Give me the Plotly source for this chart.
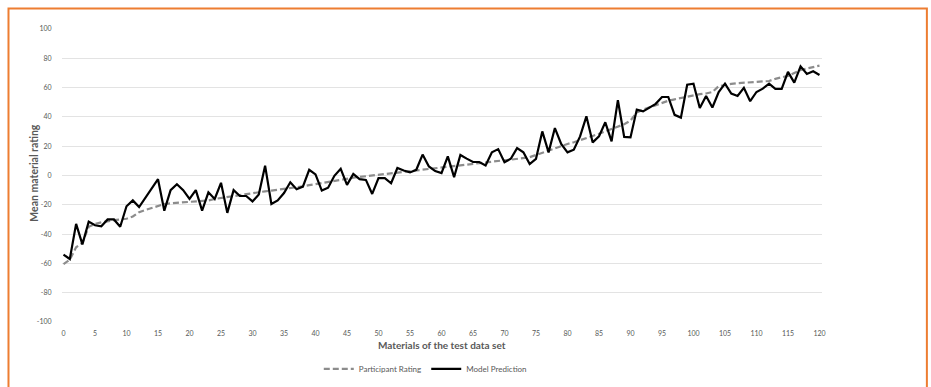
import plotly.graph_objects as go

# Index of each material in the test data set
materials = list(range(121))

# Mean participant rating per material (sorted ascending)
participant_rating = [
    -60.5, -57.5, -49, -46, -35, -33, -32, -31, -30.5, -30,
    -29.5, -28, -25, -23.5, -22, -20.5, -19.5, -19, -18.7, -18.3,
    -18, -17.8, -17.6, -17, -16, -15.3, -14.7, -14, -13.5, -12.8,
    -12, -11.3, -10.8, -10.3, -9.8, -9.3, -8.7, -8.2, -7.4, -6.6,
    -5.8, -5, -4.4, -3.6, -2.8, -2.2, -1.5, -1, -0.5, 0,
    0.4, 0.9, 1.4, 1.9, 2.4, 3, 3.5, 4, 4.5, 5,
    5.6, 6.2, 6.8, 7.3, 7.8, 8.3, 8.8, 9.2, 9.6, 10,
    10.4, 10.8, 11.2, 11.7, 12.5, 14, 15.5, 17, 18.5, 20.3,
    21.5, 22.7, 24, 25.5, 27, 28.5, 30, 31.7, 33.3, 35,
    37.5, 43, 45, 46.5, 48, 50, 51, 52, 53, 54,
    55, 55.5, 56, 57, 61, 62, 62.5, 63, 63.2, 63.5,
    63.7, 64, 64.5, 66, 67, 68, 70, 72, 73, 74,
    75,
]

# Model prediction per material
model_prediction = [
    -54, -57, -33, -47, -31.5, -34, -34.7, -30, -30, -35,
    -21, -17, -21.5, -15, -8.5, -2.5, -24, -10, -6, -10,
    -16, -10, -24, -11.5, -16, -5, -25.5, -10, -14, -14,
    -17.7, -13, 6.7, -19.5, -17, -12, -4.6, -9.4, -7.6, 3.9,
    0.7, -10.3, -8.3, -0.2, 4.6, -6.4, 1.1, -2.5, -3, -12.6,
    -1.8, -1.8, -5.3, 5.1, 3.4, 2.1, 3.9, 14.3, 6.2, 3,
    1.6, 13.1, -1.1, 14, 11.5, 9.2, 9.2, 6.9, 15.9, 18,
    9, 11.4, 18.7, 15.8, 7.8, 11.4, 30.1, 15.8, 32.4, 21.5,
    15.8, 17.6, 26.7, 40.4, 22.6, 26.7, 36.3, 23.3, 51.4, 26.3,
    26, 45, 43.8, 46.1, 48.9, 53.6, 53.6, 41.4, 39.5, 62,
    62.7, 46.1, 54.3, 46.4, 57, 62.7, 55.9, 54.3, 59.8, 50.7,
    57, 59.3, 62.7, 59.1, 59.1, 70.7, 63.4, 74.5, 69.3, 71.1,
    68.6,
]

x_ticks = list(range(0, 121, 5))
y_ticks = list(range(-100, 101, 20))

FONT = "Lato, 'Open Sans', sans-serif"
TEXT_GREY = "#595959"

fig = go.Figure()
fig.add_trace(go.Scatter(
    x=materials, y=participant_rating, mode="lines",
    name="Participant Rating",
    line=dict(color="#8c8c8c", width=2.2, dash="6px,3px"),
))
fig.add_trace(go.Scatter(
    x=materials, y=model_prediction, mode="lines",
    name="Model Prediction",
    line=dict(color="#000000", width=2.2),
))

fig.update_layout(
    width=931, height=387,
    margin=dict(l=62, r=109, t=29, b=65, autoexpand=False),
    paper_bgcolor="white", plot_bgcolor="white",
    font=dict(family=FONT, color=TEXT_GREY, size=7),
    showlegend=True,
    legend=dict(
        orientation="h", x=0.478, xanchor="center", y=-0.16, yanchor="middle",
        font=dict(size=8, color=TEXT_GREY), itemwidth=30,
        bgcolor="rgba(0,0,0,0)",
    ),
    xaxis=dict(
        range=[-0.24, 120.4], tickmode="array", tickvals=x_ticks,
        ticktext=[str(v) for v in x_ticks],
        showgrid=False, zeroline=False, showline=False,
        ticks="outside", ticklen=5, tickcolor="rgba(0,0,0,0)",
        tickfont=dict(size=7, color=TEXT_GREY),
    ),
    yaxis=dict(
        range=[-100, 100], tickmode="array", tickvals=y_ticks,
        ticktext=[str(v) for v in y_ticks],
        showgrid=True, gridcolor="#e3e3e3", gridwidth=1,
        zeroline=False, showline=False, ticks="outside", ticklen=8,
        tickcolor="rgba(0,0,0,0)",
        tickfont=dict(size=7, color=TEXT_GREY),
    ),
    annotations=[
        dict(text="<b>Mean material rating</b>", textangle=-90,
             xref="paper", yref="paper", x=-0.038, y=0.51,
             xanchor="center", yanchor="middle",
             showarrow=False, font=dict(size=10.5, color=TEXT_GREY)),
        dict(text="<b>Materials of the test data set</b>",
             xref="paper", yref="paper", x=0.5, y=-0.0785,
             xanchor="center", yanchor="middle",
             showarrow=False, font=dict(size=10, color=TEXT_GREY)),
    ],
    shapes=[
        dict(type="rect", xref="paper", yref="paper",
             x0=-0.0704, x1=1.138, y0=-0.4, y1=1.07,
             line=dict(color="#ED7D31", width=2), layer="below"),
    ],
)

fig.write_html("out.html")
